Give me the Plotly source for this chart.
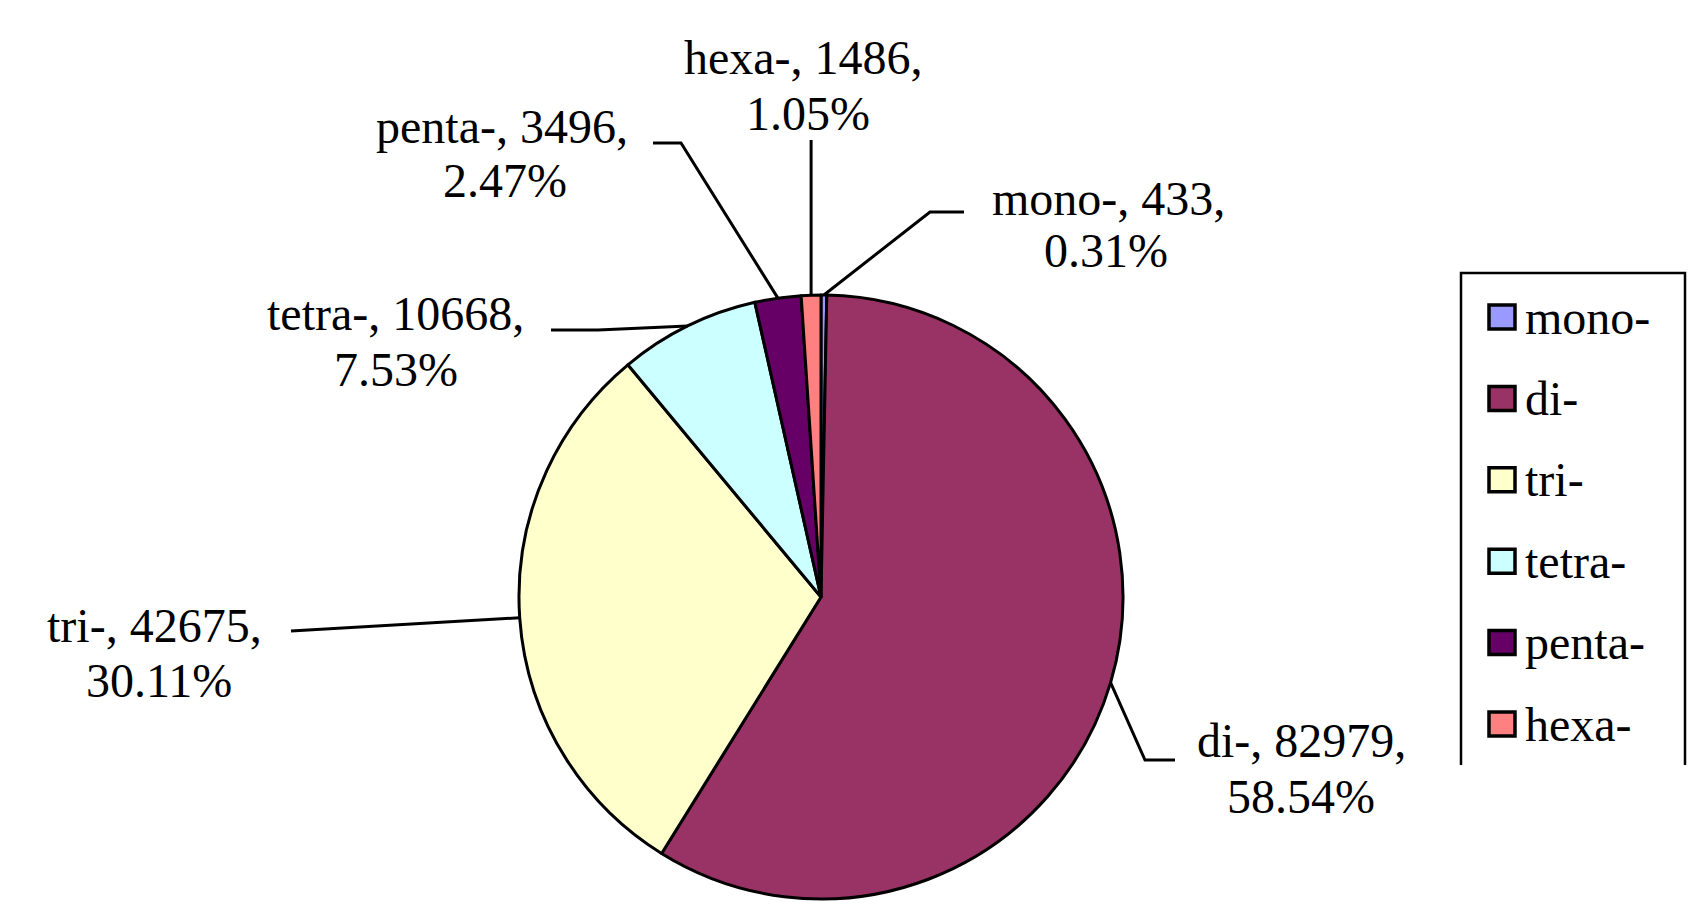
import math
import plotly.graph_objects as go

# dados do gráfico
categorias = ["mono-", "di-", "tri-", "tetra-", "penta-", "hexa-"]
valores = [433, 82979, 42675, 10668, 3496, 1486]
cores = ["#9999FF", "#993366", "#FFFFCC", "#CCFFFF", "#660066", "#FF8080"]

W, H = 1700, 907
cx, cy, r = 813, 589, 302  # centro e raio da pizza em px

total = sum(valores)
pcts = [v / total * 100 for v in valores]

# centro de cada linha do rótulo: (x1, y1, x2, y2)
rotulo_pos = [
    (1100, 190, 1098, 242),
    (1293, 732, 1293, 788),
    (146, 617, 151, 672),
    (387, 305, 388, 361),
    (494, 118, 497, 172),
    (795, 49, 800, 105),
]
# pontos das linhas guia (do texto até a borda da pizza)
guia_pts = [
    [(956, 204), (922, 204)],
    [(1167, 752), (1137, 752)],
    [(283, 623)],
    [(543, 322), (590, 322)],
    [(645, 135), (673, 135)],
    [(805, 132)],
]

fig = go.Figure()

fig.add_trace(go.Pie(
    labels=categorias, values=valores, sort=False, direction="clockwise",
    rotation=0, textinfo="none", hoverinfo="label+value+percent",
    marker=dict(colors=cores, line=dict(color="black", width=3)),
    domain=dict(x=[(cx - r) / W, (cx + r) / W], y=[1 - (cy + r) / H, 1 - (cy - r) / H]),
    showlegend=False,
))

# eixos invisíveis em px para linhas e textos
fig.update_layout(
    xaxis=dict(range=[0, W], visible=False, domain=[0, 1], fixedrange=True),
    yaxis=dict(range=[H, 0], visible=False, domain=[0, 1], fixedrange=True),
)

fonte = dict(family="Liberation Serif", size=48, color="black")

acum = 0
for i, (cat, v, p) in enumerate(zip(categorias, valores, pcts)):
    frac_meio = (acum + v / 2) / total
    acum += v
    th = frac_meio * 2 * math.pi
    ex, ey = cx + r * math.sin(th), cy - r * math.cos(th)
    pts = guia_pts[i] + [(ex, ey)]
    if cat == "hexa-":
        pts = [(ex, guia_pts[i][0][1]), (ex, ey)]
    path = "M" + " L".join(f"{x:.1f},{y:.1f}" for x, y in pts)
    fig.add_shape(type="path", path=path, xref="x", yref="y",
                  line=dict(color="black", width=3), layer="above")
    x1, y1, x2, y2 = rotulo_pos[i]
    fig.add_annotation(x=x1, y=y1, xref="x", yref="y", showarrow=False,
                       text=f"{cat}, {v},", font=fonte,
                       xanchor="center", yanchor="middle")
    fig.add_annotation(x=x2, y=y2, xref="x", yref="y", showarrow=False,
                       text=f"{p:.2f}%", font=fonte,
                       xanchor="center", yanchor="middle")

# legenda manual (caixa aberta embaixo, como no original)
fig.add_shape(type="path", path="M1453,757 L1453,265 L1677,265 L1677,757",
              xref="x", yref="y", line=dict(color="black", width=2.5))
for i, (cat, cor) in enumerate(zip(categorias, cores)):
    yy = 309 + i * 81.4
    fig.add_shape(type="rect", x0=1481, x1=1507, y0=yy - 12, y1=yy + 12,
                  xref="x", yref="y", fillcolor=cor, line=dict(color="black", width=3.5))
    fig.add_annotation(x=1515, y=yy, xref="x", yref="y", showarrow=False,
                       text=cat, font=fonte, xanchor="left", yanchor="middle")

fig.update_layout(
    width=W, height=H,
    margin=dict(l=0, r=0, t=0, b=0),
    paper_bgcolor="white", plot_bgcolor="white",
)

fig.write_html("out.html")
